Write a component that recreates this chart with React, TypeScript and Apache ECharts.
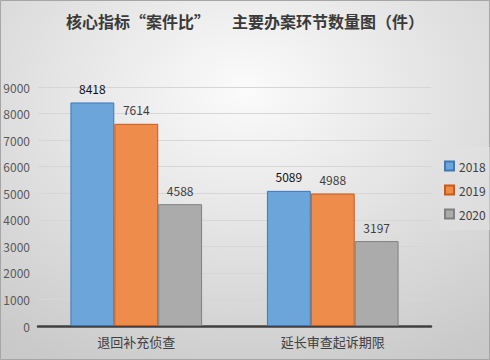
import React, { useEffect, useRef } from "react";
import * as echarts from "echarts";

const categories = ["退回补充侦查", "延长审查起诉期限"];
const seriesNames = ["2018", "2019", "2020"];
const values2018 = [8418, 5089];
const values2019 = [7614, 4988];
const values2020 = [4588, 3197];
const titleText = "核心指标“案件比”      主要办案环节数量图（件）";

const FONT = "'Noto Sans CJK SC', 'Noto Sans', sans-serif";

export default function App() {
  const ref = useRef<HTMLDivElement>(null);
  useEffect(() => {
    document.body.style.margin = "0";
    const chart = echarts.init(ref.current!, null, { renderer: "svg" });
    const colors = ["#6CA5D9", "#EE8C4B", "#ABABAB"];
    const borders = ["#3F78B4", "#C8591A", "#808080"];
    const labelColors = ["#111111", "#404040", "#404040"];
    const data = [values2018, values2019, values2020];
    chart.setOption({
      animation: false,
      backgroundColor: {
        type: "radial",
        x: 0.5,
        y: 0.25,
        r: 0.85,
        colorStops: [
          { offset: 0, color: "#fbfbfb" },
          { offset: 1, color: "#c9c9c9" },
        ],
      },
      textStyle: { fontFamily: FONT },
      title: {
        text: titleText,
        left: "center",
        top: 8,
        textStyle: { fontSize: 16, fontWeight: "bold", color: "#3a3a3a", fontFamily: FONT },
      },
      graphic: [
        {
          type: "rect",
          shape: { x: 0.5, y: 0.5, width: 489, height: 359 },
          style: { fill: "none", stroke: "#a6a6a6", lineWidth: 1 },
          silent: true,
        },
      ],
      legend: {
        orient: "vertical",
        left: 440,
        top: 147,
        data: seriesNames.map((n) => ({ name: n, icon: "rect" })),
        backgroundColor: "rgba(225,225,225,0.55)",
        padding: [13, 8, 10, 4],
        itemWidth: 9,
        itemHeight: 9,
        itemGap: 12,
        textStyle: { fontSize: 12, color: "#404040", fontFamily: FONT },
      },
      grid: { left: 38, right: 59, top: 87, bottom: 34, containLabel: false },
      xAxis: {
        type: "category",
        data: categories,
        axisLine: { lineStyle: { color: "#404040", width: 2.5 } },
        axisTick: { show: false },
        axisLabel: { fontSize: 13, color: "#404040", margin: 9, fontFamily: FONT },
      },
      yAxis: {
        type: "value",
        min: 0,
        max: 9000,
        interval: 1000,
        axisLine: { show: false },
        axisTick: { show: false },
        axisLabel: {
          fontSize: 12,
          color: "#595959",
          margin: 8,
          fontFamily: FONT,
          formatter: (v: number) => String(v),
        },
        splitLine: { lineStyle: { color: "#d6d6d6", width: 1 } },
      },
      series: seriesNames.map((name, i) => ({
        name,
        type: "bar",
        data: data[i],
        barGap: "0%",
        barCategoryGap: "33%",
        itemStyle: { color: colors[i], borderColor: borders[i], borderWidth: 1 },
        label: {
          show: true,
          position: "top",
          distance: 8,
          fontSize: 12,
          color: labelColors[i],
          fontFamily: FONT,
        },
      })),
    });
    return () => chart.dispose();
  }, []);
  return <div ref={ref} style={{ width: 490, height: 360 }} />;
}
